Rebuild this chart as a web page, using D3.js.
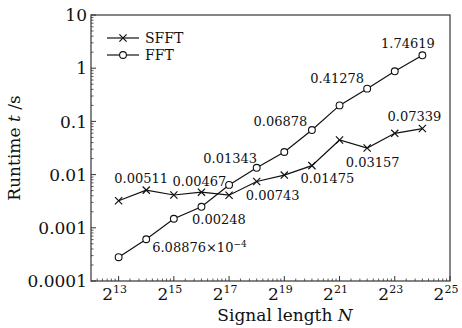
<!DOCTYPE html>
<html lang="en">
<head>
<meta charset="UTF-8">
<title>SFFT vs FFT runtime</title>
<script src="https://d3js.org/d3.v7.min.js"></script>
<style>
  body { margin: 0; background: #fff; }
  svg text { font-family: "DejaVu Serif", serif; fill: #111; }
</style>
</head>
<body>
<svg id="chart" width="462" height="328"></svg>
<script>
  // data (runtime in seconds, N = 2^exp)
  const exponents = [13, 14, 15, 16, 17, 18, 19, 20, 21, 22, 23, 24];
  const sfft = [0.00323, 0.00511, 0.00414, 0.00467, 0.0041, 0.00743, 0.0098, 0.01475, 0.0447, 0.03157, 0.0597, 0.07339];
  const fft = [0.00028, 0.000608876, 0.00148, 0.00248, 0.0064, 0.01343, 0.0266, 0.06878, 0.2, 0.41278, 0.875, 1.74619];
  const xTickExps = [13, 15, 17, 19, 21, 23, 25];
  const yTickVals = [10, 1, 0.1, 0.01, 0.001, 0.0001];
  const yTickLabels = ["10", "1", "0.1", "0.01", "0.001", "0.0001"];

  // value labels: which point, and where the text sits relative to it
  const notes = [
    { s: "sfft", i: 1, text: "0.00511", dx: -5, dy: -7 },
    { s: "sfft", i: 3, text: "0.00467", dx: -2, dy: -6 },
    { s: "sfft", i: 5, text: "0.00743", dx: 16, dy: 18.5 },
    { s: "sfft", i: 7, text: "0.01475", dx: 15.5, dy: 17 },
    { s: "sfft", i: 9, text: "0.03157", dx: 5.5, dy: 18.7 },
    { s: "sfft", i: 11, text: "0.07339", dx: -8, dy: -8 },
    { s: "fft", i: 3, text: "0.00248", dx: 17.5, dy: 17 },
    { s: "fft", i: 5, text: "0.01343", dx: -26.5, dy: -5 },
    { s: "fft", i: 7, text: "0.06878", dx: -31.5, dy: -4 },
    { s: "fft", i: 9, text: "0.41278", dx: -30, dy: -5.6 },
    { s: "fft", i: 11, text: "1.74619", dx: -14.5, dy: -7 }
  ];

  const svg = d3.select("#chart");
  const mLeft = 91, mRight = 450, mTop = 15, mBottom = 281;

  const x = d3.scaleLog().base(2).domain([2 ** 12, 2 ** 25]).range([mLeft, mRight]);
  const y = d3.scaleLog().domain([1e-4, 10]).range([mBottom, mTop]);

  const series = { sfft: sfft, fft: fft };

  // frame
  svg.append("rect")
    .attr("x", mLeft).attr("y", mTop)
    .attr("width", mRight - mLeft).attr("height", mBottom - mTop)
    .attr("fill", "none").attr("stroke", "#444").attr("stroke-width", 1.3);

  // y ticks (major + minor, inward)
  const yMinor = [];
  for (let p = -4; p < 1; p++) {
    for (let m = 2; m <= 9; m++) yMinor.push(m * Math.pow(10, p));
  }
  svg.append("g").selectAll("line").data(yMinor).join("line")
    .attr("x1", mLeft).attr("x2", mLeft + 2.5)
    .attr("y1", d => y(d)).attr("y2", d => y(d))
    .attr("stroke", "#333").attr("stroke-width", 0.8);
  svg.append("g").selectAll("line").data(yTickVals).join("line")
    .attr("x1", mLeft).attr("x2", mLeft + 5)
    .attr("y1", d => y(d)).attr("y2", d => y(d))
    .attr("stroke", "#333").attr("stroke-width", 1);
  svg.append("g").selectAll("text").data(yTickVals).join("text")
    .attr("x", mLeft - 4).attr("y", d => y(d))
    .attr("dy", "0.36em")
    .attr("text-anchor", "end")
    .attr("font-size", 17)
    .text((d, i) => yTickLabels[i]);

  // x ticks: major every 2 powers, minor linear between majors
  const xMinor = [];
  for (let e = 11; e < 25; e += 2) {
    const a = 2 ** e, b = 2 ** (e + 2);
    for (let k = 1; k < 9; k++) {
      const v = a + k * (b - a) / 9;
      if (v > 2 ** 12 && v < 2 ** 25) xMinor.push(v);
    }
  }
  svg.append("g").selectAll("line").data(xMinor).join("line")
    .attr("x1", d => x(d)).attr("x2", d => x(d))
    .attr("y1", mBottom).attr("y2", mBottom - 2.5)
    .attr("stroke", "#333").attr("stroke-width", 0.8);
  svg.append("g").selectAll("line").data(xTickExps).join("line")
    .attr("x1", d => x(2 ** d)).attr("x2", d => x(2 ** d))
    .attr("y1", mBottom).attr("y2", mBottom - 5)
    .attr("stroke", "#333").attr("stroke-width", 1);
  const xl = svg.append("g").selectAll("text").data(xTickExps).join("text")
    .attr("x", d => x(2 ** d) - 4).attr("y", 300)
    .attr("text-anchor", "middle")
    .attr("font-size", 17);
  xl.append("tspan").text("2");
  xl.append("tspan").attr("dy", -7).attr("font-size", 11).text(d => d);

  // axis titles
  const yt = svg.append("text")
    .attr("transform", `translate(20,${(mTop + mBottom) / 2}) rotate(-90)`)
    .attr("text-anchor", "middle")
    .attr("font-size", 17);
  yt.append("tspan").text("Runtime ");
  yt.append("tspan").attr("font-style", "italic").text("t");
  yt.append("tspan").text(" /s");

  const xt = svg.append("text")
    .attr("x", 285).attr("y", 321)
    .attr("text-anchor", "middle")
    .attr("font-size", 17);
  xt.append("tspan").text("Signal length ");
  xt.append("tspan").attr("font-style", "italic").text("N");

  // lines
  const line = d3.line()
    .x((d, i) => x(2 ** exponents[i]))
    .y(d => y(d));

  svg.append("path").datum(fft).attr("d", line)
    .attr("fill", "none").attr("stroke", "#111").attr("stroke-width", 1.2);
  svg.append("path").datum(sfft).attr("d", line)
    .attr("fill", "none").attr("stroke", "#111").attr("stroke-width", 1.2);

  // markers
  function cross(g, cx, cy) {
    const r = 3.6;
    g.append("path")
      .attr("d", `M${cx - r},${cy - r}L${cx + r},${cy + r}M${cx - r},${cy + r}L${cx + r},${cy - r}`)
      .attr("stroke", "#111").attr("stroke-width", 1.2).attr("fill", "none");
  }
  function ring(g, cx, cy) {
    g.append("circle").attr("cx", cx).attr("cy", cy).attr("r", 3.4)
      .attr("fill", "#fff").attr("stroke", "#111").attr("stroke-width", 1.1);
  }
  const mk = svg.append("g");
  sfft.forEach((v, i) => cross(mk, x(2 ** exponents[i]), y(v)));
  fft.forEach((v, i) => ring(mk, x(2 ** exponents[i]), y(v)));

  // value labels
  svg.append("g").selectAll("text").data(notes).join("text")
    .attr("x", d => x(2 ** exponents[d.i]) + d.dx)
    .attr("y", d => y(series[d.s][d.i]) + d.dy)
    .attr("text-anchor", "middle")
    .attr("font-size", 13)
    .text(d => d.text);

  // the 6.08876x10^-4 label has a superscript
  const sm = svg.append("text")
    .attr("x", x(2 ** exponents[1]) + 6)
    .attr("y", y(fft[1]) + 12.4)
    .attr("font-size", 13);
  sm.append("tspan").text("6.08876\u00d710");
  sm.append("tspan").attr("dy", -5).attr("font-size", 9).text("\u22124");

  // legend
  const lg = svg.append("g");
  const legendRows = [{ name: "SFFT", y: 38, m: cross }, { name: "FFT", y: 55, m: ring }];
  legendRows.forEach(r => {
    lg.append("line").attr("x1", 107).attr("x2", 139).attr("y1", r.y).attr("y2", r.y)
      .attr("stroke", "#111").attr("stroke-width", 1.2);
    r.m(lg, 123, r.y);
    lg.append("text").attr("x", 145).attr("y", r.y).attr("dy", "0.35em")
      .attr("font-size", 14).text(r.name);
  });
</script>
</body>
</html>
